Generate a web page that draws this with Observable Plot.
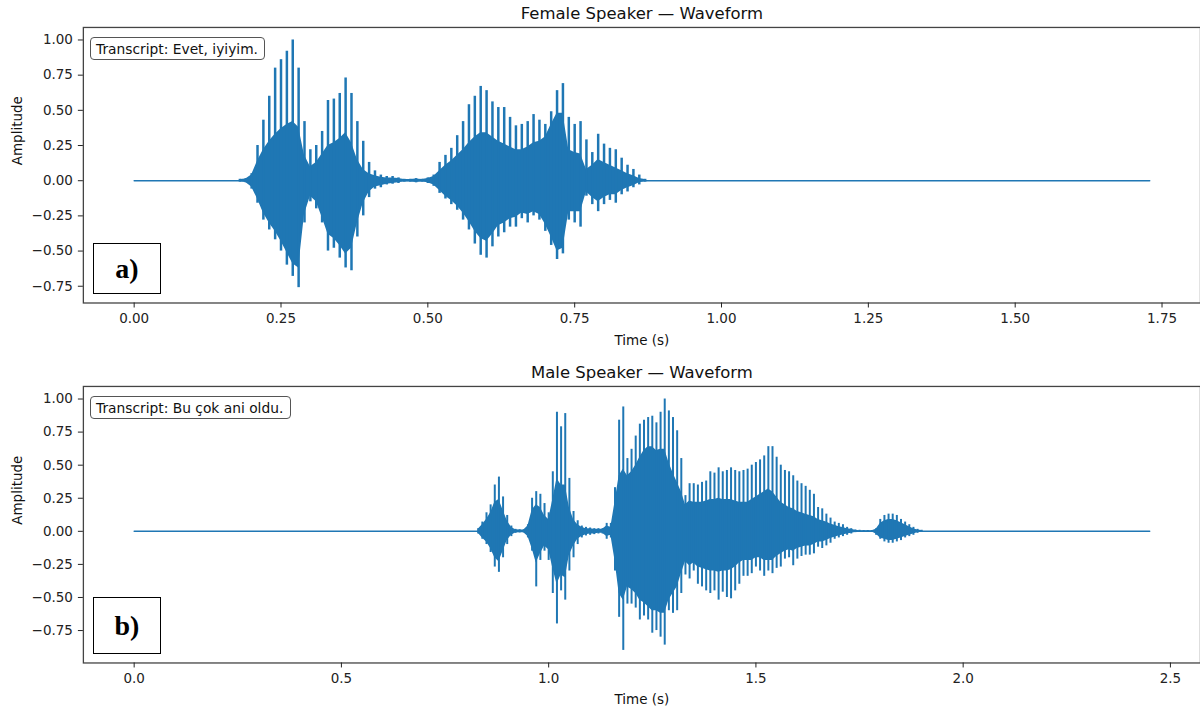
<!DOCTYPE html>
<html>
<head>
<meta charset="utf-8">
<script src="https://cdn.jsdelivr.net/npm/d3@7"></script>
<script src="https://cdn.jsdelivr.net/npm/@observablehq/plot@0.6"></script>
<style>
  html, body { margin: 0; padding: 0; background: #fff; overflow: hidden; }
  #wrap { position: relative; width: 1200px; height: 713px; overflow: hidden; background: #fff; }
  .panel { position: absolute; left: 0; }
  .transcript { position: absolute; box-sizing: border-box; border: 1.3px solid #555; border-radius: 4px;
    background: #fff; font-family: "DejaVu Sans", sans-serif; font-size: 13.8px; color: #111;
    padding: 0 5px; white-space: nowrap; display: flex; align-items: center; }
  .tag { position: absolute; box-sizing: border-box; border: 1.3px solid #000; background: #fff;
    font-family: "Liberation Serif", "Times New Roman", serif; font-weight: bold; font-size: 28px; color: #000;
    display: flex; align-items: center; justify-content: center; }
</style>
</head>
<body>
<div id="wrap"></div>
<script>
// ---------- data ----------
const yTicks = [-0.75, -0.5, -0.25, 0, 0.25, 0.5, 0.75, 1.0];
const femaleXTicks = [0, 0.25, 0.5, 0.75, 1.0, 1.25, 1.5, 1.75];
const maleXTicks = [0, 0.5, 1.0, 1.5, 2.0, 2.5];

const femaleTitle = "Female Speaker — Waveform";
const maleTitle = "Male Speaker — Waveform";
const femaleTranscript = "Transcript: Evet, iyiyim.";
const maleTranscript = "Transcript: Bu çok ani oldu.";

const femaleDuration = 1.729;   // seconds
const maleDuration = 2.450;     // seconds
const sampleStep = 0.01;        // envelope sampling step (s)

// Female: envelope samples from t = 0.18 s
const femaleStart = 0.18;
const femaleHi = [0.01,0.015,0.05,0.25,0.43,0.60,0.80,0.86,0.92,1.00,0.80,0.42,0.22,0.25,0.35,0.57,0.58,0.62,0.73,0.62,
  0.42,0.28,0.13,0.07,0.04,0.03,0.03,0.02,0.01,0.01,0.015,0.01,0.02,0.04,0.13,0.18,0.23,0.32,0.42,0.54,
  0.60,0.67,0.64,0.56,0.52,0.52,0.45,0.39,0.40,0.42,0.47,0.43,0.40,0.49,0.64,0.69,0.45,0.40,0.42,0.29,
  0.20,0.33,0.26,0.23,0.22,0.16,0.11,0.08,0.04,0.01];
const femaleLo = [-0.01,-0.015,-0.06,-0.16,-0.28,-0.35,-0.42,-0.50,-0.60,-0.68,-0.76,-0.30,-0.15,-0.20,-0.30,-0.50,-0.48,-0.55,-0.62,-0.64,
  -0.40,-0.25,-0.12,-0.06,-0.05,-0.03,-0.025,-0.02,-0.01,-0.01,-0.015,-0.01,-0.02,-0.04,-0.09,-0.13,-0.17,-0.21,-0.28,-0.35,
  -0.45,-0.53,-0.55,-0.47,-0.40,-0.37,-0.33,-0.33,-0.27,-0.30,-0.25,-0.28,-0.36,-0.46,-0.56,-0.52,-0.28,-0.30,-0.33,-0.11,
  -0.17,-0.22,-0.17,-0.14,-0.16,-0.10,-0.08,-0.05,-0.03,-0.01];
const femaleCoreHi = [0.008,0.012,0.04,0.14,0.22,0.28,0.33,0.37,0.40,0.42,0.38,0.18,0.10,0.13,0.19,0.25,0.27,0.30,0.34,0.27,
  0.15,0.08,0.05,0.035,0.025,0.02,0.02,0.015,0.008,0.008,0.012,0.008,0.015,0.03,0.07,0.11,0.14,0.18,0.22,0.27,
  0.31,0.34,0.34,0.31,0.28,0.26,0.24,0.22,0.22,0.24,0.27,0.28,0.31,0.40,0.48,0.48,0.22,0.20,0.19,0.08,
  0.11,0.15,0.13,0.11,0.09,0.07,0.05,0.035,0.015,0.008];
const femaleCoreLo = [-0.008,-0.012,-0.045,-0.13,-0.23,-0.30,-0.36,-0.43,-0.51,-0.59,-0.62,-0.24,-0.11,-0.15,-0.26,-0.38,-0.41,-0.46,-0.52,-0.48,
  -0.30,-0.16,-0.08,-0.045,-0.035,-0.025,-0.02,-0.015,-0.008,-0.008,-0.012,-0.008,-0.015,-0.03,-0.07,-0.11,-0.14,-0.18,-0.23,-0.29,
  -0.36,-0.41,-0.43,-0.38,-0.32,-0.30,-0.27,-0.26,-0.23,-0.24,-0.22,-0.24,-0.31,-0.40,-0.50,-0.48,-0.22,-0.22,-0.22,-0.08,
  -0.12,-0.15,-0.12,-0.10,-0.10,-0.07,-0.05,-0.035,-0.015,-0.008];

// Male: envelope samples from t = 0.83 s
const maleStart = 0.83;
const maleHi = [0.02,0.07,0.14,0.20,0.35,0.41,0.26,0.12,0.04,0.015,0.012,0.012,0.05,0.25,0.30,0.28,0.21,0.14,0.45,0.90,
  0.79,0.89,0.40,0.15,0.08,0.04,0.03,0.025,0.02,0.02,0.02,0.06,0.06,0.33,0.84,0.94,0.55,0.62,0.72,0.81,
  0.84,0.86,0.87,0.82,0.90,1.00,0.91,0.86,0.76,0.55,0.27,0.36,0.36,0.35,0.37,0.38,0.45,0.44,0.48,0.45,
  0.46,0.48,0.46,0.45,0.46,0.47,0.50,0.52,0.54,0.57,0.64,0.64,0.56,0.50,0.46,0.45,0.42,0.38,0.36,0.34,
  0.31,0.28,0.18,0.17,0.13,0.10,0.07,0.06,0.05,0.03,0.02,0.01,0.008,0.006,0.006,0.006,0.02,0.09,0.12,0.13,
  0.13,0.12,0.09,0.07,0.05,0.03,0.015,0.008];
const maleLo = [-0.02,-0.06,-0.10,-0.16,-0.27,-0.31,-0.20,-0.10,-0.04,-0.015,-0.012,-0.012,-0.05,-0.15,-0.42,-0.22,-0.15,-0.22,-0.47,-0.70,
  -0.45,-0.52,-0.30,-0.20,-0.10,-0.05,-0.035,-0.03,-0.025,-0.02,-0.02,-0.06,-0.05,-0.30,-0.65,-0.90,-0.55,-0.55,-0.58,-0.67,
  -0.64,-0.67,-0.77,-0.75,-0.80,-0.86,-0.60,-0.62,-0.60,-0.47,-0.33,-0.36,-0.30,-0.40,-0.42,-0.45,-0.47,-0.45,-0.52,-0.46,
  -0.50,-0.51,-0.45,-0.40,-0.34,-0.34,-0.32,-0.27,-0.30,-0.34,-0.30,-0.32,-0.28,-0.27,-0.21,-0.20,-0.26,-0.21,-0.19,-0.18,
  -0.18,-0.17,-0.12,-0.13,-0.11,-0.09,-0.06,-0.05,-0.04,-0.03,-0.02,-0.01,-0.008,-0.006,-0.006,-0.006,-0.03,-0.06,-0.08,-0.09,
  -0.09,-0.08,-0.07,-0.05,-0.04,-0.03,-0.015,-0.008];
const maleCoreHi = [0.015,0.05,0.09,0.14,0.22,0.24,0.16,0.08,0.03,0.012,0.01,0.01,0.04,0.16,0.20,0.18,0.12,0.09,0.24,0.40,
  0.35,0.35,0.18,0.09,0.05,0.03,0.02,0.02,0.015,0.015,0.015,0.04,0.03,0.22,0.42,0.47,0.42,0.45,0.50,0.56,
  0.61,0.64,0.64,0.61,0.62,0.62,0.52,0.44,0.37,0.30,0.20,0.23,0.22,0.22,0.22,0.23,0.24,0.24,0.25,0.24,
  0.24,0.24,0.23,0.22,0.22,0.22,0.24,0.26,0.28,0.30,0.32,0.30,0.26,0.22,0.20,0.18,0.17,0.15,0.14,0.13,
  0.12,0.11,0.09,0.08,0.07,0.055,0.045,0.035,0.028,0.02,0.015,0.008,0.005,0.005,0.005,0.005,0.015,0.06,0.08,0.09,
  0.09,0.08,0.065,0.05,0.035,0.02,0.01,0.006];
const maleCoreLo = [-0.015,-0.05,-0.08,-0.13,-0.20,-0.23,-0.15,-0.07,-0.03,-0.012,-0.01,-0.01,-0.04,-0.13,-0.24,-0.17,-0.11,-0.14,-0.28,-0.40,
  -0.33,-0.35,-0.18,-0.11,-0.06,-0.04,-0.025,-0.02,-0.02,-0.015,-0.015,-0.04,-0.03,-0.22,-0.47,-0.52,-0.42,-0.44,-0.47,-0.52,
  -0.54,-0.57,-0.60,-0.60,-0.62,-0.62,-0.52,-0.47,-0.42,-0.32,-0.23,-0.26,-0.24,-0.27,-0.28,-0.29,-0.30,-0.30,-0.31,-0.30,
  -0.30,-0.29,-0.27,-0.24,-0.22,-0.22,-0.22,-0.20,-0.20,-0.22,-0.22,-0.22,-0.19,-0.17,-0.15,-0.14,-0.15,-0.13,-0.12,-0.11,
  -0.11,-0.10,-0.08,-0.08,-0.07,-0.055,-0.045,-0.035,-0.028,-0.02,-0.015,-0.008,-0.005,-0.005,-0.005,-0.005,-0.02,-0.05,-0.06,-0.07,
  -0.07,-0.06,-0.05,-0.04,-0.03,-0.02,-0.01,-0.006];

// ---------- build ----------
const blue = "#1f77b4";
function rows(start, hi, lo, cHi, cLo) {
  return hi.map((h, i) => ({
    t: Math.round((start + i * sampleStep) * 1000) / 1000,
    hi: h, lo: lo[i], coreHi: cHi[i], coreLo: cLo[i]
  }));
}
const femaleRows = rows(femaleStart, femaleHi, femaleLo, femaleCoreHi, femaleCoreLo);
const maleRows = rows(maleStart, maleHi, maleLo, maleCoreHi, maleCoreLo);

function panel({rowsData, duration, xDomain, yDomain, xTicks, xFmt, title, height, marginTop, marginBottom, labelDy, spikeWidth}) {
  return Plot.plot({
    width: 1202, height, marginLeft: 83, marginRight: 0, marginTop, marginBottom,
    style: {fontFamily: "DejaVu Sans, sans-serif", fontSize: "13.5px", background: "transparent", overflow: "visible", color: "#222"},
    x: {domain: xDomain},
    y: {domain: yDomain},
    marks: [
      Plot.lineY([{t: 0, a: 0}, {t: duration, a: 0}], {x: "t", y: "a", stroke: blue, strokeWidth: 1.5}),
      Plot.areaY(rowsData, {x: "t", y1: "coreLo", y2: "coreHi", fill: blue, curve: "linear"}),
      Plot.ruleX(rowsData, {x: "t", y1: "lo", y2: "hi", stroke: blue, strokeWidth: spikeWidth}),
      Plot.frame({stroke: "#444", strokeWidth: 1.3}),
      Plot.axisX({ticks: xTicks, tickFormat: d3.format(xFmt), tickSize: 5, tickPadding: 5, label: null, fontSize: 13.5, stroke: "#222", fill: "#222"}),
      Plot.axisY({ticks: yTicks, tickFormat: d3.format(".2f"), tickSize: 5, tickPadding: 5.5, label: null, fontSize: 13.5, stroke: "#222", fill: "#222"}),
      Plot.text([title], {frameAnchor: "top", dy: -14, fontSize: 16.5, fill: "#111", lineAnchor: "middle"}),
      Plot.text(["Time (s)"], {frameAnchor: "bottom", dy: labelDy, fontSize: 13.5, fill: "#111", lineAnchor: "middle"}),
      Plot.text(["Amplitude"], {frameAnchor: "left", dx: -65.5, rotate: -90, fontSize: 13.5, fill: "#111", lineAnchor: "middle"})
    ]
  });
}

const wrapEl = document.getElementById("wrap");

const topPanel = panel({rowsData: femaleRows, duration: femaleDuration, xDomain: [-0.0865, 1.8155], yDomain: [-0.869, 1.089],
  xTicks: femaleXTicks, xFmt: ".2f", title: femaleTitle, height: 356, marginTop: 27, marginBottom: 53, labelDy: 38, spikeWidth: 2.5});
topPanel.classList.add("panel"); topPanel.style.top = "0px";
wrapEl.appendChild(topPanel);

const bottomPanel = panel({rowsData: maleRows, duration: maleDuration, xDomain: [-0.1225, 2.5725], yDomain: [-0.995, 1.095],
  xTicks: maleXTicks, xFmt: ".1f", title: maleTitle, height: 357, marginTop: 30, marginBottom: 50, labelDy: 37, spikeWidth: 2});
bottomPanel.classList.add("panel"); bottomPanel.style.top = "356px";
wrapEl.appendChild(bottomPanel);

function addBox(cls, text, left, topPx, w, h) {
  const d = document.createElement("div");
  d.className = cls; d.textContent = text;
  Object.assign(d.style, {left: left + "px", top: topPx + "px", width: w + "px", height: h + "px"});
  wrapEl.appendChild(d);
}
addBox("transcript", femaleTranscript, 90, 37, 175, 23);
addBox("transcript", maleTranscript, 90, 396, 201, 23);
addBox("tag", "a)", 93, 243, 68, 51);
addBox("tag", "b)", 93, 597, 68, 57);
</script>
</body>
</html>
